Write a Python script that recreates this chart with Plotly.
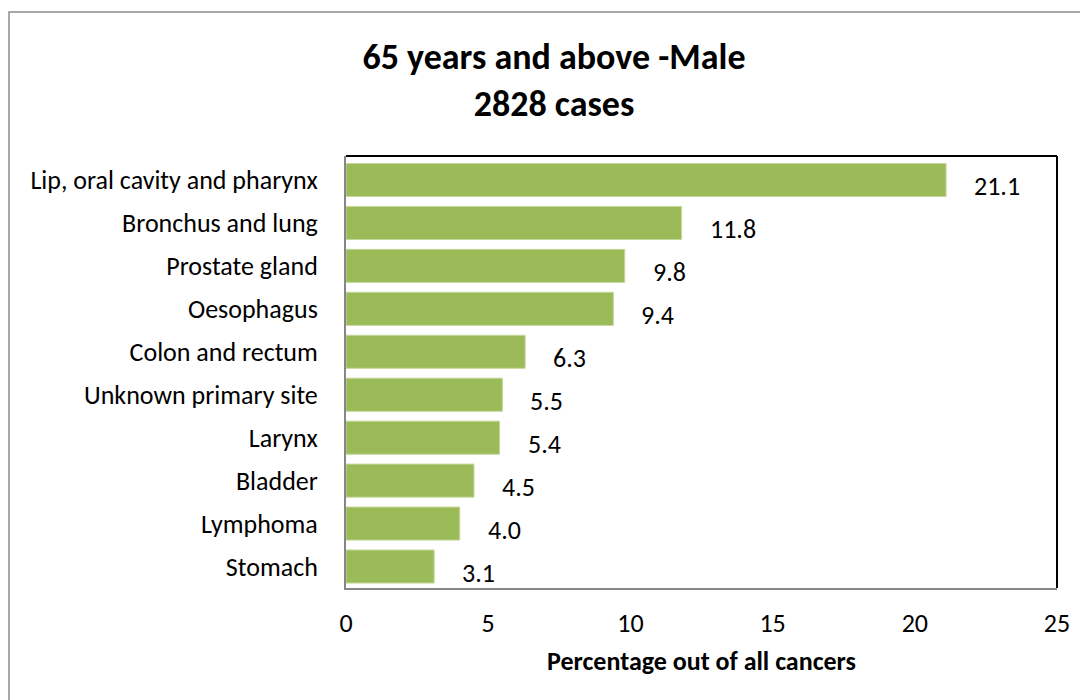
import plotly.graph_objects as go

sites = ["Lip, oral cavity and pharynx", "Bronchus and lung", "Prostate gland",
         "Oesophagus", "Colon and rectum", "Unknown primary site", "Larynx",
         "Bladder", "Lymphoma", "Stomach"]
percent = [21.1, 11.8, 9.8, 9.4, 6.3, 5.5, 5.4, 4.5, 4.0, 3.1]
x_ticks = [0, 5, 10, 15, 20, 25]

font = "Carlito, Calibri, Lato, sans-serif"

# page body has an 8px margin, so the figure is drawn 8px in from the corner
W, H = 1080, 692
L, T, R, B = 338, 148, 31, 112

fig = go.Figure()
fig.add_trace(go.Bar(
    x=percent, y=sites, orientation="h",
    marker=dict(color="#9bbb59", line=dict(color="#c5d89a", width=1)),
    hoverinfo="x+y",
))

# value labels, just right of each bar end and a bit low (Excel style)
for s, v in zip(sites, percent):
    fig.add_annotation(x=v, y=s, text=f"{v:.1f}", showarrow=False,
                       xanchor="left", xshift=26, yshift=-6,
                       font=dict(family=font, size=26, color="black"))

fig.update_layout(
    width=W, height=H,
    margin=dict(l=L, r=R, t=T, b=B),
    paper_bgcolor="white", plot_bgcolor="white",
    bargap=0.23, showlegend=False,
    font=dict(family=font, size=26, color="black"),
    title=dict(text="<b>65 years and above -Male<br>2828 cases</b>",
               x=(546 - L) / (W - L - R), xref="paper", xanchor="center",
               y=1 - 61 / H, yanchor="middle",
               font=dict(family=font, size=36, color="black")),
)

fig.update_xaxes(range=[0, 25], tickvals=x_ticks, showgrid=False, zeroline=False,
                 showline=True, linecolor="#868686", linewidth=2, ticks="",
                 ticklabelstandoff=11,
                 title=dict(text="<b>Percentage out of all cancers</b>",
                            font=dict(family=font, size=26), standoff=14))
fig.update_yaxes(autorange="reversed", showgrid=False, zeroline=False,
                 showline=True, linecolor="#868686", linewidth=2, ticks="",
                 ticklabelstandoff=21)

# black top and right frame of plot area
fig.add_shape(type="line", xref="paper", yref="paper", x0=0, x1=1, y0=1, y1=1,
              line=dict(color="black", width=2))
fig.add_shape(type="line", xref="paper", yref="paper", x0=1, x1=1, y0=0, y1=1,
              line=dict(color="black", width=2))
# outer chart border (runs off the right and bottom edge)
pw, ph = W - L - R, H - T - B
fig.add_shape(type="rect", xref="paper", yref="paper",
              x0=(1 - L) / pw, x1=1.2, y0=(H - B - 4) / ph, y1=-0.5,
              line=dict(color="#8c8c8c", width=1.5))

fig.write_html("out.html")
